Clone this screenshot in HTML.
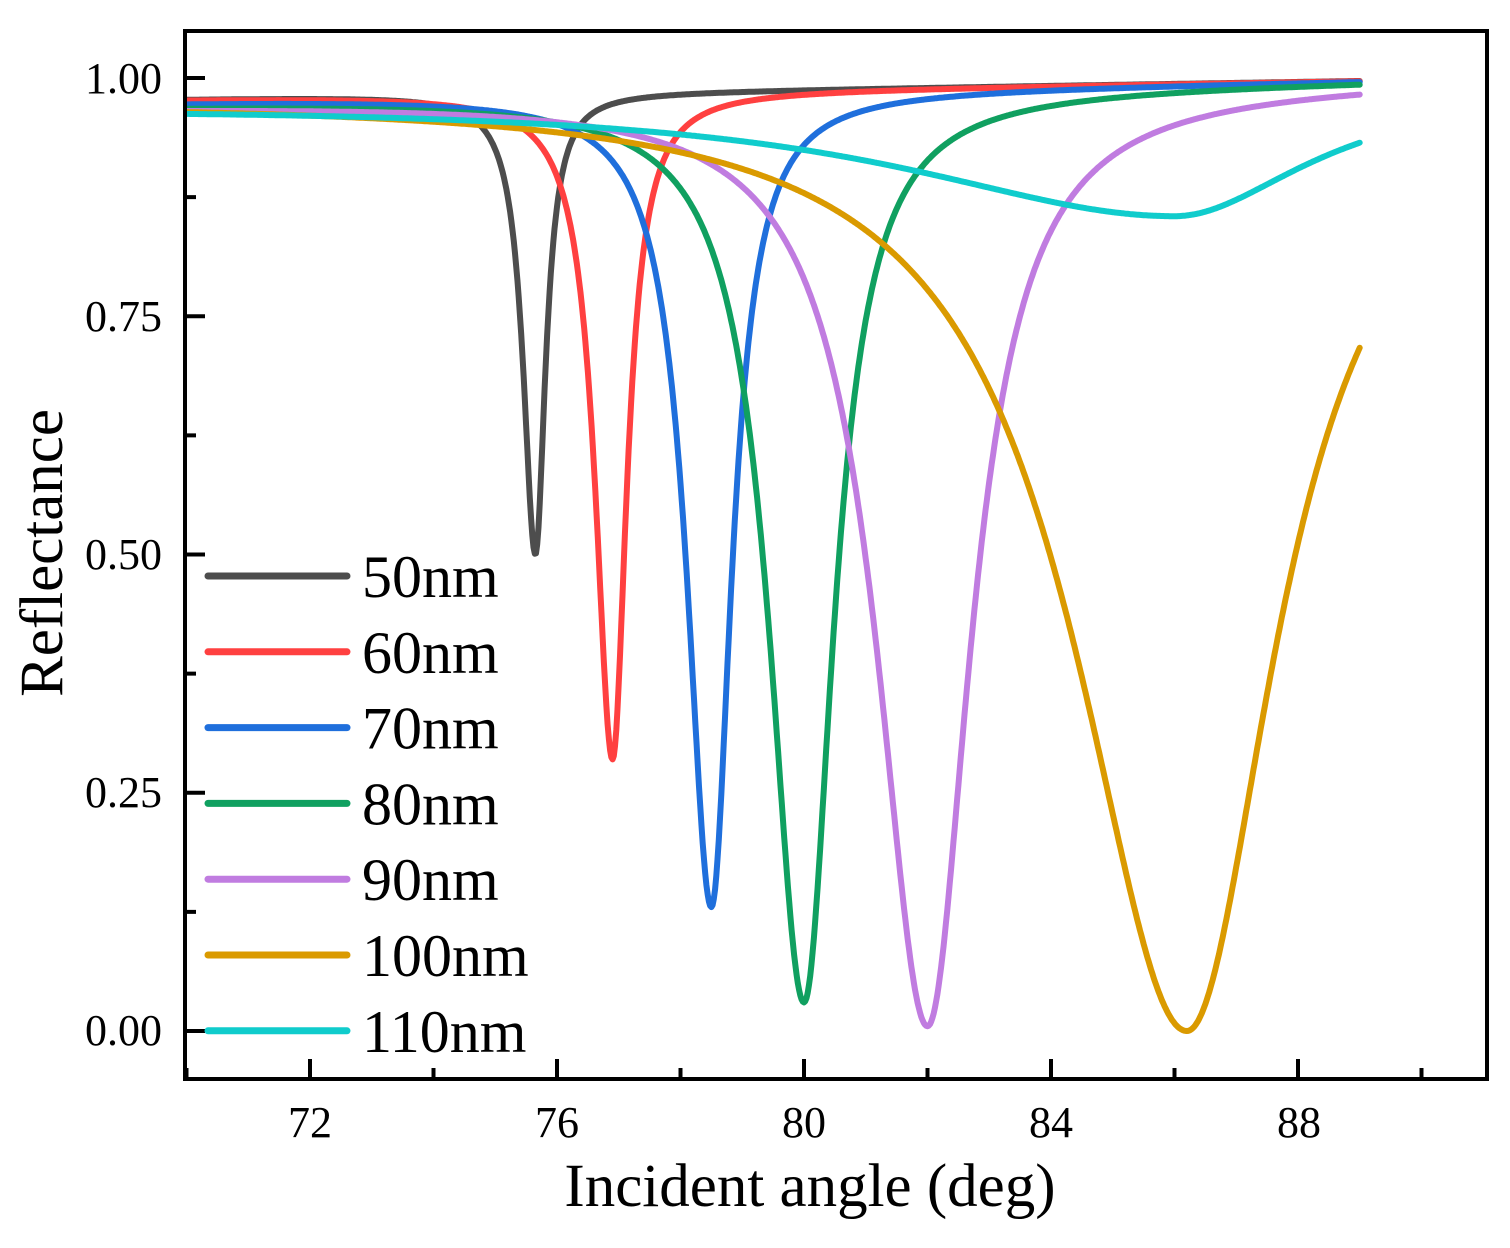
<!DOCTYPE html>
<html><head><meta charset="utf-8"><style>body{margin:0;background:#fff}svg{display:block}text{font-family:"Liberation Serif",serif;fill:#000}</style></head>
<body>
<svg id="s" width="1510" height="1248" xmlns="http://www.w3.org/2000/svg">
<g id="curves" fill="none" stroke-width="6" stroke-linejoin="round" stroke-linecap="round"></g>
<rect x="185" y="31" width="1302" height="1048" fill="none" stroke="#000" stroke-width="4"/>
<g id="ticks" stroke="#000" stroke-width="4"></g>
<g font-size="44" text-anchor="end">
<text x="162" y="93">1.00</text><text x="162" y="331">0.75</text><text x="162" y="569">0.50</text><text x="162" y="807">0.25</text><text x="162" y="1045">0.00</text>
</g>
<g font-size="44" text-anchor="middle">
<text x="310" y="1137">72</text><text x="557" y="1137">76</text><text x="804" y="1137">80</text><text x="1051" y="1137">84</text><text x="1299" y="1137">88</text>
</g>
<text x="810" y="1206" font-size="61" text-anchor="middle">Incident angle (deg)</text>
<text transform="translate(62,553) rotate(-90)" font-size="61" text-anchor="middle">Reflectance</text>
<g id="leg" stroke-width="7" stroke-linecap="round"></g>
<g font-size="60" id="legt"></g>
</svg>
<script>
const X=a=>186.5+(a-70)*61.75, Y=r=>1031-(r-0)*953;
const S=[
["#4d4d4d",75.65,0.50,0.24,0.20,0.978,"50nm"],
["#ff4040",76.9,0.285,0.34,0.28,0.978,"60nm"],
["#1f6fdc",78.5,0.13,0.48,0.40,0.975,"70nm"],
["#10a060",80.0,0.03,0.68,0.58,0.972,"80nm"],
["#c07ce0",82.0,0.005,1.0,0.85,0.972,"90nm"],
["#da9a00",86.2,0.0,2.2,1.75,0.982,"100nm"],
["#10cccc",86.0,0.855,5.5,2.6,0.975,"110nm"]];
let g="",lg="",lt="";
S.forEach((s,i)=>{
 let [c,x0,m,wl,wr,b0]=s,d="";
 for(let a=70;a<=89.001;a+=0.02){
  let base=b0+(0.997-b0)*(a-70)/19; if(i==6)base=0.975+(0.99-0.975)*(a-70)/19;
  let w=a<x0?wl:wr;
  let r=base-(base-m)*w*w/((a-x0)*(a-x0)+w*w);
  d+=(d?"L":"M")+X(a).toFixed(1)+","+Y(r).toFixed(1);
 }
 g+=`<path d="${d}" stroke="${c}"/>`;
 let y=576+i*75.8;
 lg+=`<line x1="208" x2="347" y1="${y}" y2="${y}" stroke="${c}"/>`;
 lt+=`<text x="362" y="${y+21}">${s[6]}</text>`;
});
document.getElementById("curves").innerHTML=g;
document.getElementById("leg").innerHTML=lg;
document.getElementById("legt").innerHTML=lt;
let t="";
for(let a=70;a<=91;a+=2){let x=X(a),L=(a%4==0)?20:11;t+=`<line x1="${x}" x2="${x}" y1="1079" y2="${1079-L}"/>`;}
for(let k=-0.125;k<=1.125;k+=0.125){let y=Y(k),L=(Math.round(k*8)%2==0)?20:11;if(y>33&&y<1077)t+=`<line x1="185" x2="${185+L}" y1="${y}" y2="${y}"/>`;}
document.getElementById("ticks").innerHTML=t;
</script>
</body></html>
